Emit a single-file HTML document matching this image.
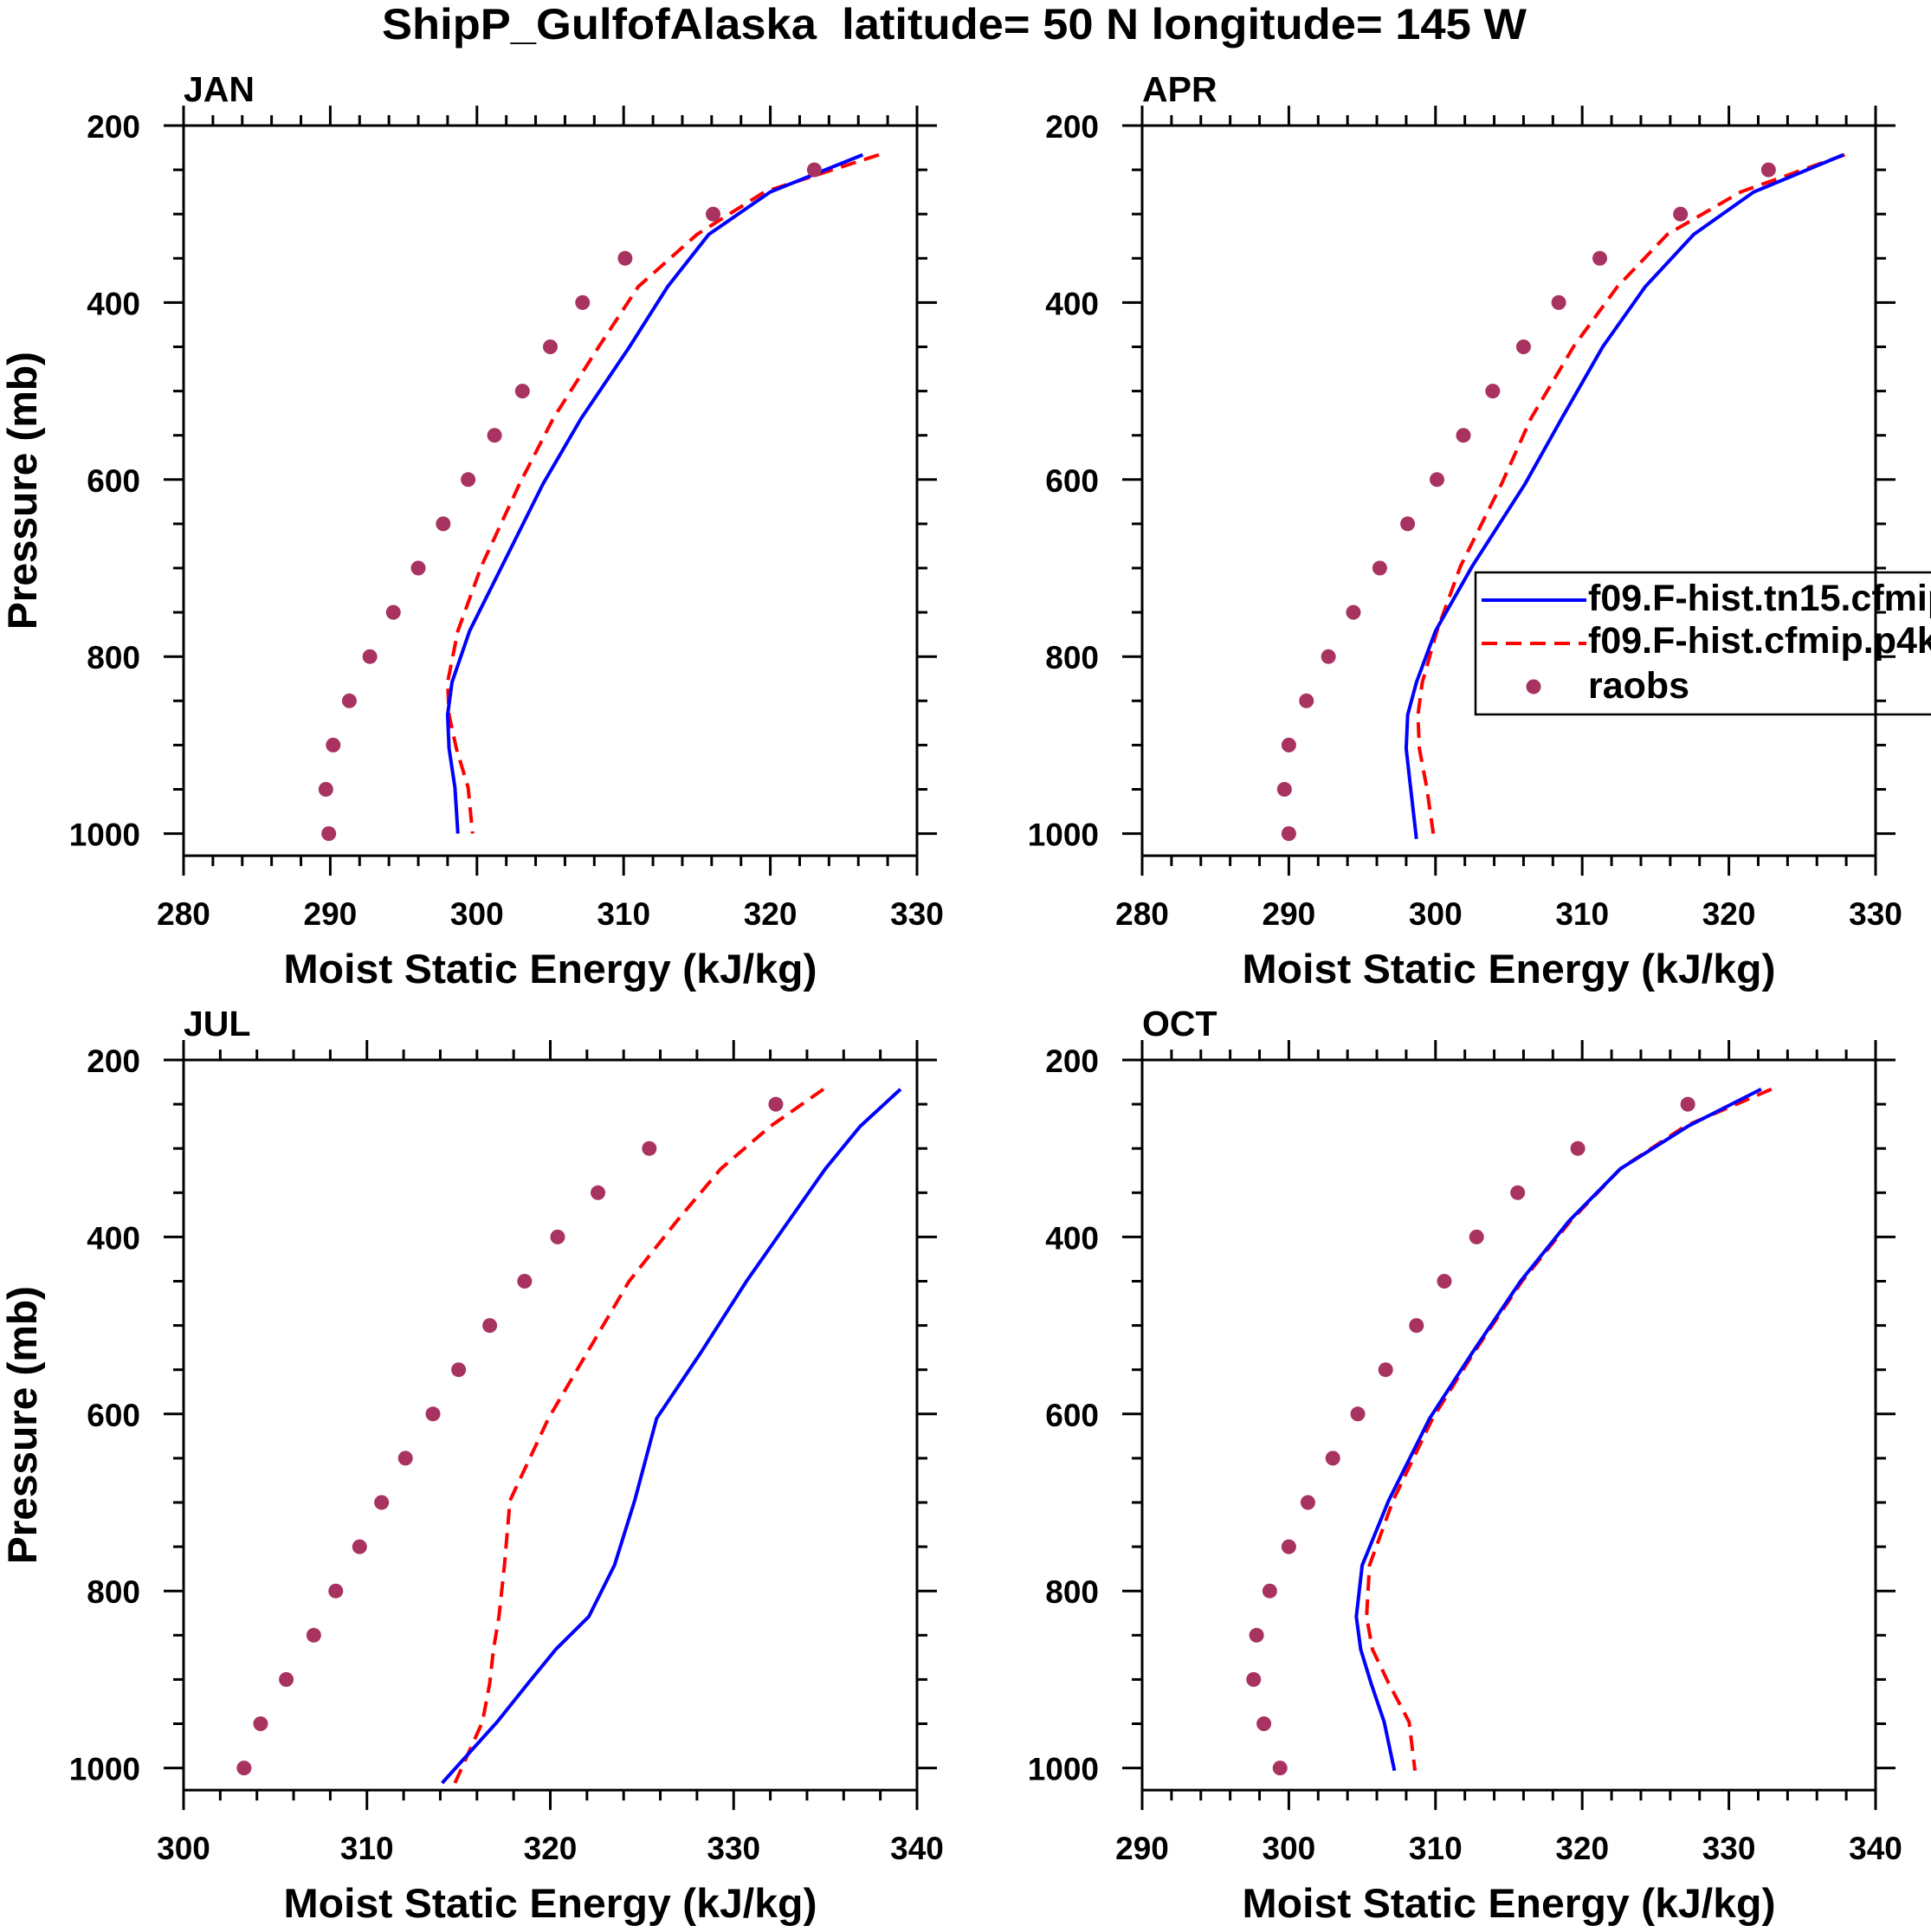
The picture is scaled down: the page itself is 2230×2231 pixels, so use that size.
<!DOCTYPE html>
<html><head><meta charset="utf-8"><style>
html,body{margin:0;padding:0;background:#fff;}
svg{display:block;}
text{font-family:"Liberation Sans",Arial,sans-serif;font-weight:bold;fill:#000;}
</style></head>
<body>
<svg id="chart" width="2230" height="2231" viewBox="0 0 2230 2231" xmlns="http://www.w3.org/2000/svg">
<text x="1102" y="45" font-size="50" text-anchor="middle" textLength="1322" lengthAdjust="spacingAndGlyphs">ShipP_GulfofAlaska&#160; latitude= 50 N longitude= 145 W</text>
</svg>
<script>
// ---- data ----
const modelLevels = [233,275,323,382,450,531,605,698,771,829,866,904,948,1000];
const obsLevels = [250,300,350,400,450,500,550,600,650,700,750,800,850,900,950,1000];
const panelNames = ['JAN','APR','JUL','OCT'];
const surfacePressure = [1000,1006,1017,1003];
const xMinVals = [280,280,300,290];
const xMaxVals = [330,330,340,340];
const yTicks = [200,400,600,800,1000];
const blueJAN = [326.3,320.0,315.8,313.0,310.4,307.1,304.5,301.7,299.5,298.3,298.0,298.1,298.5,298.7];
const redJAN  = [327.4,319.6,315.0,311.0,308.3,305.2,302.9,300.3,298.7,298.0,298.1,298.6,299.4,299.7];
const obsJAN  = [323.0,316.1,310.1,307.2,305.0,303.1,301.2,299.4,297.7,296.0,294.3,292.7,291.3,290.2,289.7,289.9];
const blueAPR = [327.8,321.7,317.6,314.3,311.4,308.6,306.1,302.5,300.0,298.7,298.1,298.0,298.3,298.7];
const redAPR  = [327.9,320.8,315.8,312.4,309.4,306.5,304.5,301.7,300.1,299.1,298.8,298.9,299.4,299.9];
const obsAPR  = [322.7,316.7,311.2,308.4,306.0,303.9,301.9,300.1,298.1,296.2,294.4,292.7,291.2,290.0,289.7,290.0];
const blueJUL = [339.1,336.9,335.0,333.0,330.7,328.2,325.8,324.6,323.5,322.1,320.3,318.8,317.1,314.1];
const redJUL  = [334.9,332.0,329.3,326.9,324.3,322.0,319.9,317.8,317.5,317.2,316.9,316.7,316.3,314.8];
const obsJUL  = [332.3,325.4,322.6,320.4,318.6,316.7,315.0,313.6,312.1,310.8,309.6,308.3,307.1,305.6,304.2,303.3];
const blueOCT = [332.2,327.2,322.6,319.1,315.8,312.5,309.6,306.8,305.0,304.6,304.9,305.6,306.5,307.2];
const redOCT  = [332.9,327.0,322.6,319.2,315.9,312.6,309.8,307.1,305.5,305.3,305.7,306.8,308.2,308.6];
const obsOCT  = [327.2,319.7,315.6,312.8,310.6,308.7,306.6,304.7,303.0,301.3,300.0,298.7,297.8,297.6,298.3,299.4];
const blueSeries = [blueJAN,blueAPR,blueJUL,blueOCT];
const redSeries = [redJAN,redAPR,redJUL,redOCT];
const obsSeries = [obsJAN,obsAPR,obsJUL,obsOCT];

// ---- layout ----
const svg = document.getElementById('chart');
const NS = 'http://www.w3.org/2000/svg';
const lefts = [212,1319,212,1319];
const tops = [145,145,1224,1224];
const W = 847, PMIN = 200, PMAX = 1025, PXMB = 1.022;
function mk(tag, attrs, parent){
  const e = document.createElementNS(NS, tag);
  for (const k in attrs) e.setAttribute(k, attrs[k]);
  (parent||svg).appendChild(e);
  return e;
}
for (let i=0;i<4;i++){
  const L = lefts[i], T = tops[i], H = (PMAX-PMIN)*PXMB, B = T+H, R = L+W;
  const x0 = xMinVals[i], x1 = xMaxVals[i];
  const xs = v => L + (v-x0)/(x1-x0)*W;
  const ys = p => T + (p-PMIN)*PXMB;
  const g = mk('g',{});
  
  
  for (let p=200;p<=1000;p+=50){
    const major = p%200===0; const len = major?23:12; const y = ys(p);
    const t1 = mk('line',{x1:L-len,x2:L,y1:y,y2:y,stroke:'#000','stroke-width':3},g);
    
    
    const t2 = mk('line',{x1:R,x2:R+len,y1:y,y2:y,stroke:'#000','stroke-width':3},g);
    
    
  }
  for (let v=x0; v<=x1; v+=2){
    const major = v%10===0; const len = major?23:12; const x = xs(v);
    const t1 = mk('line',{x1:x,x2:x,y1:B,y2:B+len,stroke:'#000','stroke-width':3},g);
    
    
    const t2 = mk('line',{x1:x,x2:x,y1:T-len,y2:T,stroke:'#000','stroke-width':3},g);
    
    
    if (major){
      const tl = mk('text',{x:x,y:B+80,'font-size':37,'text-anchor':'middle'},g);
      
      
      tl.textContent = v;
    }
  }
  yTicks.forEach(p=>{
    const tl = mk('text',{x:L-50,y:ys(p)+14,'font-size':37,'text-anchor':'end'},g);
    
    
    tl.textContent = p;
  });
  const frame = mk('rect',{x:L,y:T,width:W,height:H,fill:'none',stroke:'#000','stroke-width':3},g);
  
  
  const lab = mk('text',{x:L,y:T-28,'font-size':41},g);
  
  
  lab.textContent = panelNames[i];
  const xt = mk('text',{x:L+W/2,y:B+147,'font-size':47,'text-anchor':'middle',textLength:616,lengthAdjust:'spacingAndGlyphs'},g);
  
  
  xt.textContent = 'Moist Static Energy (kJ/kg)';
  const yt = mk('text',{x:0,y:0,'font-size':47,'text-anchor':'middle',textLength:321,lengthAdjust:'spacingAndGlyphs',transform:'translate(42,'+(T+H/2)+') rotate(-90)'},g);
  
  
  yt.textContent = 'Pressure (mb)';
  const lev = modelLevels.slice(); lev[lev.length-1] = surfacePressure[i];
  const ptsB = blueSeries[i].map((v,k)=>xs(v)+','+ys(lev[k])).join(' ');
  const ptsR = redSeries[i].map((v,k)=>xs(v)+','+ys(lev[k])).join(' ');
  const pr = mk('polyline',{points:ptsR,fill:'none',stroke:'#ff0000','stroke-width':4,'stroke-dasharray':'18 10'},g);
  
  
  const pb = mk('polyline',{points:ptsB,fill:'none',stroke:'#0000ff','stroke-width':4},g);
  
  
  obsSeries[i].forEach((v,k)=>{
    const c = mk('circle',{cx:xs(v),cy:ys(obsLevels[k]),r:8.5,fill:'#a83260'},g);
    
    
  });
}
const lg = mk('g',{});


const lb = mk('rect',{x:1704,y:661,width:600,height:164,fill:'none',stroke:'#000','stroke-width':2.5},lg);


const l1 = mk('line',{x1:1711,x2:1832,y1:693,y2:693,stroke:'#0000ff','stroke-width':4},lg);


const l2 = mk('line',{x1:1711,x2:1832,y1:743,y2:743,stroke:'#ff0000','stroke-width':4,'stroke-dasharray':'18 10'},lg);


const l3 = mk('circle',{cx:1771,cy:793,r:8.5,fill:'#a83260'},lg);


const legTexts = ['f09.F-hist.tn15.cfmip','f09.F-hist.cfmip.p4k','raobs'];
const legY = [705,754,806];
legTexts.forEach((s,k)=>{
  const t = mk('text',{x:1834,y:legY[k],'font-size':43},lg);
  
  
  t.textContent = s;
});
</script>
</body></html>
